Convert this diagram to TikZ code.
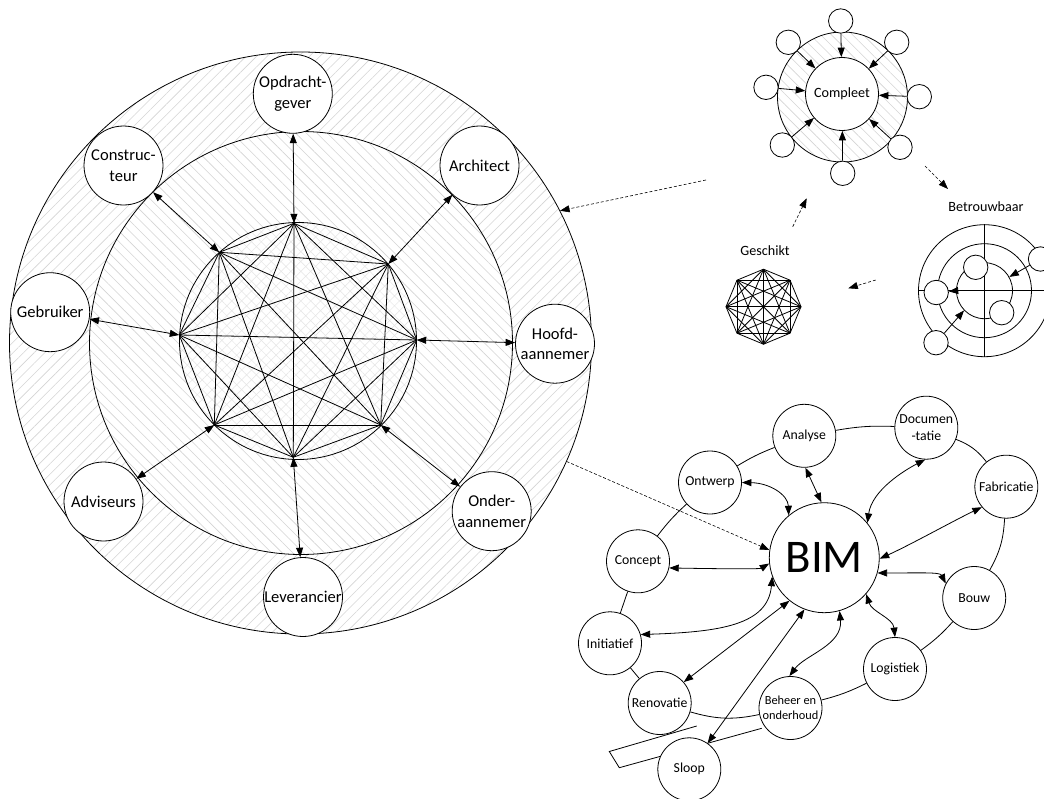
\documentclass[tikz,border=0pt]{standalone}
\usepackage{fontspec}
\setmainfont{Carlito}
\usetikzlibrary{arrows.meta,patterns.meta}

\begin{document}
\begin{tikzpicture}[x=1bp,y=-1bp,
  line width=0.8bp,
  >={Triangle[length=9.5bp,width=7bp]},
  party/.style={circle,draw,fill=white,minimum size=79bp,inner sep=0pt,align=center,
    font=\fontsize{16.6}{20.5}\selectfont},
  phase/.style={circle,draw,fill=white,minimum size=63bp,inner sep=0pt,align=center,
    font=\fontsize{13.8}{16.5}\selectfont},
  dot/.style={circle,draw,fill=white,minimum size=24.4bp,inner sep=0pt},
  plain/.style={circle,draw,inner sep=0pt},
  caption/.style={font=\fontsize{14.2}{16}\selectfont},
  hint/.style={->,densely dashed,line width=0.6bp},
  hatchNE/.style={pattern={Lines[angle=45,distance=7.5pt,line width=0.6pt]},pattern color=black!17},
  hatchNW/.style={pattern={Lines[angle=-45,distance=7.5pt,line width=0.6pt]},pattern color=black!17},
  hatchX/.style={pattern={Hatch[angle=45,distance=7pt,line width=0.5pt]},pattern color=black!10},
]
\useasboundingbox (0,0) rectangle (1044,799);

% ---------- project team: nested rings ----------
\node[plain,minimum size=582bp,hatchNE] (ring) at (300.5,343) {};
\node[plain,minimum size=423bp,preaction={fill=white},hatchNW] (mid) at (301,343) {};
\node[plain,minimum size=237bp,preaction={fill=white},hatchX] (core) at (298,341) {};

% octagon of partners, everyone linked to everyone
\coordinate (v1) at (294,223.3);
\coordinate (v2) at (388.3,264);
\coordinate (v3) at (416.7,340);
\coordinate (v4) at (380.7,425);
\coordinate (v5) at (293.3,457.3);
\coordinate (v6) at (214.3,425);
\coordinate (v7) at (179.3,335);
\coordinate (v8) at (219.3,252.3);
\foreach \i in {1,...,7}{
  \pgfmathtruncatemacro\s{\i+1}
  \foreach \j in {\s,...,8}{\draw (v\i) -- (v\j);}
}

\node[party] (opd) at (292.8,93.8) {Opdracht-\\gever};
\node[party] (arc) at (479.5,165.5) {Architect};
\node[party] (hfd) at (555,343.7) {Hoofd-\\aannemer};
\node[party] (ond) at (491.7,511.2) {Onder-\\aannemer};
\node[party] (lev) at (303,597) {Leverancier};
\node[party] (adv) at (103.5,501.5) {Adviseurs};
\node[party] (geb) at (50.2,312.2) {Gebruiker};
\node[party] (cst) at (123.5,165.5) {Construc-\\teur};

\draw[<->] (opd) -- (v1);
\draw[<->] (arc) -- (v2);
\draw[<->] (hfd) -- (v3);
\draw[<->] (ond) -- (v4);
\draw[<->] (lev) -- (v5);
\draw[<->] (adv) -- (v6);
\draw[<->] (geb) -- (v7);
\draw[<->] (cst) -- (v8);

% ---------- Compleet ----------
\node[plain,minimum size=130bp,hatchNW] (cring) at (842.5,97) {};
\node[plain,fill=white,minimum size=73bp,caption] (cmp) at (842,94) {Compleet};
\node[dot] (c1) at (840.7,21) {};
\node[dot] (c2) at (896.7,42.3) {};
\node[dot] (c3) at (919.3,96.7) {};
\node[dot] (c4) at (900,147.3) {};
\node[dot] (c5) at (842.7,173.3) {};
\node[dot] (c6) at (782.3,145) {};
\node[dot] (c7) at (766,87.3) {};
\node[dot] (c8) at (788.3,42.3) {};
\foreach \i in {1,...,8}{\draw[->] (c\i) -- (cmp);}

% ---------- Betrouwbaar ----------
\node[caption] (tb) at (986,206.7) {Betrouwbaar};
\node[plain,minimum size=132bp] (bo) at (984.5,290.7) {};
\node[plain,minimum size=94bp] (bm) at (984.5,290.7) {};
\node[plain,minimum size=56bp] (bi) at (984.5,290.7) {};
\draw (bo.west) -- (bo.east);
\draw (bo.north) -- (bo.south);
\node[dot] (b1) at (936.2,292.5) {};
\node[dot] (b2) at (975.7,267.3) {};
\node[dot] (b3) at (1001.7,312.7) {};
\node[dot] (b4) at (1040.5,259) {};
\node[dot] (b5) at (936,342.7) {};
\draw[->] (b4) -- (bi.29);
\draw[->] (bi.180) -- (b1);
\draw[->] (b5) -- (bi.-136);

% ---------- Geschikt ----------
\node[caption] (tg) at (765,251) {Geschikt};
\foreach \i [evaluate=\i as \a using 90-45*(\i-1)] in {1,...,8}{
  \path (763.5,306.7) ++(\a:37.5) coordinate (g\i);
}
\foreach \i in {1,...,7}{
  \pgfmathtruncatemacro\s{\i+1}
  \foreach \j in {\s,...,8}{\draw (g\i) -- (g\j);}
}

% ---------- cycle arrows ----------
\coordinate (d1s) at (925,166);   \coordinate (d1e) at (948,189);
\coordinate (d2s) at (875.7,280); \coordinate (d2e) at (848.3,288.3);
\coordinate (d3s) at (792.7,226.7); \coordinate (d3e) at (806.7,198.3);
\coordinate (d0s) at (706,180);
\draw[hint] (d1s) -- (d1e);
\draw[hint] (d2s) -- (d2e);
\draw[hint] (d3s) -- (d3e);
\draw[hint] (d0s) -- (ring.27);

% ---------- BIM life cycle ----------
% ribbon leaving the cycle towards demolition
\draw (696.7,726) -- (609.3,751.5) -- (619.3,767.7) -- (761.7,728.3);

\node[circle,draw,fill=white,minimum size=110bp,inner sep=0pt,
      font=\fontsize{47}{50}\selectfont] (bim) at (824.3,557.7) {BIM};
\node[phase] (doc) at (926.3,427.7) {Documen\\-tatie};
\node[phase] (ana) at (804.3,435.8) {Analyse};
\node[phase] (ont) at (710,482.5) {Ontwerp};
\node[phase] (fab) at (1006.3,486.7) {Fabricatie};
\node[phase] (cpt) at (638,561.3) {Concept};
\node[phase] (bou) at (974.2,598) {Bouw};
\node[phase] (ini) at (610,643.3) {Initiatief};
\node[phase] (log) at (895,669) {Logistiek};
\node[phase] (ren) at (659.7,703) {Renovatie};
\node[phase,font=\fontsize{12.4}{15}\selectfont] (beh) at (790.5,708) {Beheer en\\onderhoud};
\node[phase] (slo) at (689.3,769.3) {Sloop};

\draw (ont) to[bend left=5] (ana);
\draw (ana) to[bend left=6] (doc);
\draw (doc) to[bend left=15] (fab);
\draw (fab) to[bend left=13] (bou);
\draw (bou) to[bend left=6] (log);
\draw (log) to[bend left=6] (beh);
\draw (beh) to[bend left=14] (ren);
\draw (ren) to (ini);
\draw (ini) to (cpt);
\draw (cpt) to[bend left=5] (ont);

\draw[hint] (ring.-24) -- (bim.172);

\draw[<->] (ont.east) .. controls (770,483) and (788,495) .. (bim.130);
\draw[<->] (ana.-88) -- (bim.93);
\draw[<->] (doc.-92) .. controls (905,470) and (872,490) .. (bim.39);
\draw[<->] (fab.-140) .. controls (955,520) and (910,545) .. (bim.-1);
\draw[<->] (bim.-16) .. controls (920,573) and (940,572) .. (bou.153);
\draw[<->] (bim.-41) .. controls (872,612) and (893,618) .. (log.90);
\draw[<->] (bim.-74) .. controls (843,645) and (805,655) .. (beh.92);
\draw[<->] (bim.-111) -- (slo.55);
\draw[<->] (bim.-129) -- (ren.41);
\draw[<->] (bim.-160) .. controls (768,625) and (720,632) .. (ini.16);
\draw[<->] (cpt.-12) .. controls (730,569) and (760,569) .. (bim.-174);

\end{tikzpicture}
\end{document}
